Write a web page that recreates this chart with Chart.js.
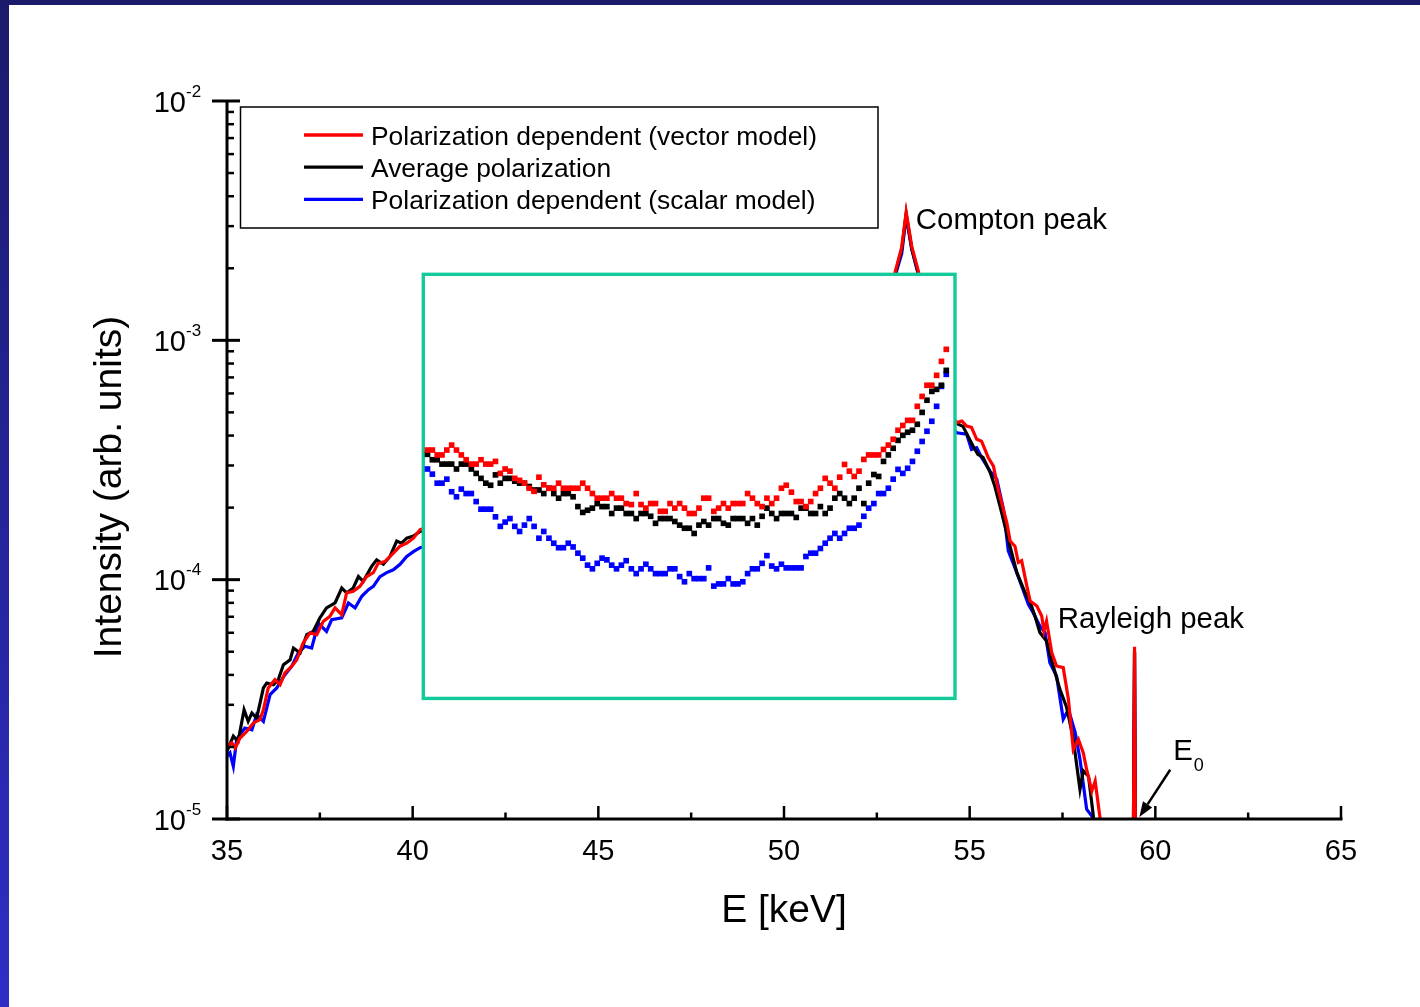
<!DOCTYPE html>
<html>
<head>
<meta charset="utf-8">
<script src="https://cdn.jsdelivr.net/npm/chart.js@4.4.0/dist/chart.umd.min.js"></script>
<style>
html, body { margin: 0; padding: 0; background: #fff; overflow: hidden; }
#wrap { position: relative; width: 1420px; height: 1007px; background: #fff; }
#topbar { position: absolute; left: 0; top: 0; width: 1420px; height: 5px; background: #1b1a6b; }
#sidebar { position: absolute; left: 0; top: 0; width: 9px; height: 1007px; background: linear-gradient(#1b1a6b, #2e2ec6); }
</style>
</head>
<body>
<div id="wrap"><canvas id="chartSpectrum"></canvas><div id="topbar"></div><div id="sidebar"></div></div>
<script>
// main spectra: energy [keV] / intensity [arb. units]
const redE = [35.00, 35.13, 35.22, 35.35, 35.53, 35.71, 35.89, 35.98, 36.11, 36.29, 36.43, 36.56, 36.74, 36.88, 37.05, 37.24, 37.42, 37.59, 37.77, 37.91, 38.09, 38.22, 38.40, 38.58, 38.76, 38.94, 39.07, 39.25, 39.48, 39.66, 39.84, 40.02, 40.20,
  46.0, 52.8, 52.99, 53.17, 53.29, 53.44, 53.62, 53.9, 54.4,
  54.65, 54.79, 54.92, 55.05, 55.19, 55.32, 55.50, 55.64, 55.77, 56.00, 56.09, 56.22, 56.31, 56.40, 56.54, 56.63, 56.81, 56.94, 57.00, 57.07, 57.21, 57.34, 57.52, 57.66, 57.79, 57.93, 58.06, 58.15, 58.29, 58.38, 58.51, 58.60,
  59.40, 59.44, 59.47]
const redI = [2.01e-5, 2.08e-5, 1.98e-5, 2.18e-5, 2.32e-5, 2.52e-5, 2.60e-5, 2.86e-5, 3.53e-5, 3.82e-5, 3.64e-5, 4.08e-5, 4.34e-5, 4.63e-5, 5.44e-5, 5.99e-5, 5.89e-5, 6.69e-5, 7.03e-5, 7.62e-5, 7.14e-5, 8.80e-5, 8.94e-5, 9.38e-5, 1.03e-4, 1.07e-4, 1.17e-4, 1.19e-4, 1.29e-4, 1.38e-4, 1.42e-4, 1.49e-4, 1.62e-4,
  3.0e-4, 1.6e-3, 1.92e-3, 2.45e-3, 3.43e-3, 2.47e-3, 1.94e-3, 1.0e-3, 5.2e-4,
  4.53e-4, 4.60e-4, 4.38e-4, 4.33e-4, 3.86e-4, 3.79e-4, 3.24e-4, 2.98e-4, 2.38e-4, 1.73e-4, 1.45e-4, 1.38e-4, 1.18e-4, 1.20e-4, 9.4e-5, 8.14e-5, 7.76e-5, 7.05e-5, 6.10e-5, 6.72e-5, 4.96e-5, 4.36e-5, 4.29e-5, 3.16e-5, 1.95e-5, 2.15e-5, 1.89e-5, 1.61e-5, 1.31e-5, 1.44e-5, 1.01e-5, 5e-6,
  5e-6, 5.25e-5, 5e-6]

const blackE = [35.00, 35.17, 35.30, 35.46, 35.57, 35.67, 35.80, 35.98, 36.07, 36.25, 36.38, 36.52, 36.70, 36.79, 36.97, 37.15, 37.32, 37.50, 37.68, 37.91, 38.09, 38.22, 38.40, 38.54, 38.67, 38.90, 39.03, 39.21, 39.39, 39.57, 39.70, 39.84, 40.02, 40.20,
  46.0, 52.8, 52.99, 53.17, 53.29, 53.44, 53.62, 53.9, 54.4,
  54.69, 54.82, 55.09, 55.22, 55.36, 55.55, 55.68, 55.86, 56.04, 56.27, 56.49, 56.63, 56.76, 56.89, 57.07, 57.25, 57.43, 57.61, 57.78, 57.97, 58.06, 58.20, 58.33, 58.40,
  59.40, 59.44, 59.47]
const blackI = [1.92e-5, 2.22e-5, 2.11e-5, 2.86e-5, 2.56e-5, 2.77e-5, 2.64e-5, 3.53e-5, 3.70e-5, 3.64e-5, 3.82e-5, 4.41e-5, 4.63e-5, 5.18e-5, 4.94e-5, 5.89e-5, 6.08e-5, 6.92e-5, 7.62e-5, 7.99e-5, 9.23e-5, 8.80e-5, 9.23e-5, 1.03e-4, 9.84e-5, 1.14e-4, 1.21e-4, 1.16e-4, 1.25e-4, 1.45e-4, 1.42e-4, 1.49e-4, 1.52e-4, 1.59e-4,
  2.8e-4, 1.55e-3, 1.88e-3, 2.40e-3, 3.38e-3, 2.42e-3, 1.90e-3, 9.6e-4, 5.0e-4,
  4.46e-4, 4.37e-4, 3.62e-4, 3.34e-4, 3.24e-4, 2.81e-4, 2.45e-4, 1.91e-4, 1.47e-4, 1.07e-4, 8.86e-5, 8.04e-5, 7.03e-5, 6.02e-5, 5.54e-5, 4.36e-5, 3.48e-5, 2.93e-5, 2.21e-5, 1.33e-5, 1.59e-5, 1.51e-5, 1.03e-5, 5e-6,
  5e-6, 5.0e-5, 5e-6]

const blueE = [35.00, 35.08, 35.17, 35.26, 35.48, 35.67, 35.80, 35.98, 36.16, 36.34, 36.56, 36.74, 36.92, 37.10, 37.28, 37.46, 37.68, 37.82, 38.09, 38.27, 38.45, 38.63, 38.81, 38.94, 39.12, 39.30, 39.48, 39.66, 39.84, 40.02, 40.20,
  46.0, 52.8, 52.99, 53.17, 53.29, 53.44, 53.62, 53.9, 54.4,
  54.65, 54.92, 55.05, 55.19, 55.32, 55.55, 55.73, 55.91, 56.04, 56.27, 56.58, 56.71, 56.89, 57.03, 57.16, 57.34, 57.52, 57.66, 57.84, 57.97, 58.15, 58.33, 58.40,
  59.40, 59.44, 59.47]
const blueI = [1.83e-5, 1.89e-5, 1.66e-5, 2.15e-5, 2.40e-5, 2.36e-5, 2.73e-5, 2.56e-5, 3.31e-5, 3.53e-5, 4.01e-5, 4.34e-5, 4.94e-5, 5.27e-5, 5.18e-5, 6.59e-5, 6.08e-5, 6.81e-5, 6.92e-5, 7.99e-5, 7.62e-5, 8.52e-5, 9.08e-5, 9.38e-5, 1.03e-4, 1.07e-4, 1.10e-4, 1.16e-4, 1.25e-4, 1.31e-4, 1.36e-4,
  2.2e-4, 1.5e-3, 1.85e-3, 2.30e-3, 3.30e-3, 2.40e-3, 1.88e-3, 9.0e-4, 4.6e-4,
  4.11e-4, 4.05e-4, 3.50e-4, 3.56e-4, 3.24e-4, 2.84e-4, 2.63e-4, 1.97e-4, 1.32e-4, 1.07e-4, 7.88e-5, 7.28e-5, 6.40e-5, 6.01e-5, 4.50e-5, 3.96e-5, 2.61e-5, 2.87e-5, 2.30e-5, 1.78e-5, 1.10e-5, 1.01e-5, 5e-6,
  5e-6, 5.0e-5, 5e-6]

// zoomed inset (values in units of 1e-4)
const insetE = [40.40, 40.53, 40.66, 40.79, 40.92, 41.05, 41.18, 41.31, 41.44, 41.58,
  41.71, 41.84, 41.97, 42.10, 42.23, 42.36, 42.49, 42.62, 42.75, 42.88,
  43.01, 43.14, 43.27, 43.40, 43.53, 43.67, 43.80, 43.93, 44.06, 44.19,
  44.32, 44.45, 44.58, 44.71, 44.84, 44.97, 45.10, 45.23, 45.36, 45.49,
  45.62, 45.75, 45.89, 46.02, 46.15, 46.28, 46.41, 46.54, 46.67, 46.80,
  46.93, 47.06, 47.19, 47.32, 47.45, 47.58, 47.71, 47.84, 47.97, 48.11,
  48.24, 48.37, 48.50, 48.63, 48.76, 48.89, 49.02, 49.15, 49.28, 49.41,
  49.54, 49.67, 49.80, 49.93, 50.06, 50.20, 50.33, 50.46, 50.59, 50.72,
  50.85, 50.98, 51.11, 51.24, 51.37, 51.50, 51.63, 51.76, 51.89, 52.02,
  52.15, 52.28, 52.42, 52.55, 52.68, 52.81, 52.94, 53.07, 53.20, 53.33,
  53.46, 53.59, 53.72, 53.85, 53.98, 54.11, 54.24, 54.37]
const insetRed = [3.48, 3.48, 3.32, 3.32, 3.48, 3.65, 3.48, 3.32, 3.17, 3.04,
  3.04, 3.17, 3.04, 3.04, 3.12, 2.78, 2.90, 2.84, 2.65, 2.60,
  2.53, 2.41, 2.34, 2.68, 2.49, 2.41, 2.41, 2.53, 2.41, 2.41,
  2.41, 2.41, 2.53, 2.41, 2.29, 2.19, 2.19, 2.19, 2.29, 2.19,
  2.19, 2.08, 2.06, 2.29, 2.06, 1.99, 2.08, 2.08, 1.93, 1.93,
  2.08, 1.99, 2.08, 1.99, 1.89, 1.89, 1.99, 2.19, 2.19, 1.93,
  1.99, 2.08, 1.99, 2.08, 2.08, 2.08, 2.29, 2.19, 2.08, 2.02,
  2.19, 2.08, 2.19, 2.41, 2.48, 2.32, 2.12, 2.12, 2.02, 2.12,
  2.29, 2.41, 2.65, 2.53, 2.41, 2.68, 3.03, 2.84, 2.70, 2.84,
  3.18, 3.32, 3.32, 3.32, 3.50, 3.65, 3.86, 4.21, 4.41, 4.63,
  4.63, 5.30, 5.83, 6.49, 6.49, 7.14, 8.17, 9.17]
const insetBlack = [3.34, 3.17, 3.17, 3.04, 3.04, 3.04, 2.90, 3.04, 3.04, 2.90,
  2.78, 2.65, 2.53, 2.48, 2.74, 2.53, 2.65, 2.65, 2.58, 2.53,
  2.53, 2.45, 2.37, 2.37, 2.29, 2.41, 2.29, 2.19, 2.29, 2.29,
  2.22, 2.02, 1.91, 1.95, 1.99, 2.08, 2.02, 2.02, 1.89, 1.99,
  1.99, 1.89, 1.89, 1.80, 1.89, 1.89, 1.84, 1.72, 1.80, 1.80,
  1.80, 1.75, 1.69, 1.64, 1.64, 1.56, 1.69, 1.75, 1.69, 1.80,
  1.80, 1.72, 1.69, 1.80, 1.80, 1.80, 1.72, 1.80, 1.69, 1.84,
  1.99, 1.89, 1.80, 1.89, 1.89, 1.89, 1.82, 1.99, 1.99, 1.89,
  1.89, 2.02, 1.89, 1.99, 2.19, 2.29, 2.19, 2.08, 2.19, 2.41,
  2.08, 2.53, 2.75, 2.70, 3.12, 3.32, 3.54, 3.82, 4.01, 4.13,
  4.21, 4.46, 5.00, 5.62, 6.12, 6.24, 6.49, 7.49]
const insetBlue = [2.90, 2.76, 2.53, 2.53, 2.63, 2.33, 2.22, 2.39, 2.29, 2.29,
  2.12, 1.97, 1.97, 1.97, 1.83, 1.67, 1.74, 1.80, 1.67, 1.59,
  1.69, 1.80, 1.67, 1.49, 1.59, 1.49, 1.42, 1.36, 1.36, 1.42,
  1.37, 1.29, 1.23, 1.15, 1.11, 1.17, 1.23, 1.21, 1.15, 1.11,
  1.15, 1.20, 1.11, 1.06, 1.11, 1.16, 1.11, 1.06, 1.06, 1.06,
  1.11, 1.11, 1.03, 0.98, 1.06, 1.01, 1.01, 1.01, 1.12, 0.94,
  0.96, 0.96, 1.01, 0.96, 0.96, 0.98, 1.06, 1.11, 1.11, 1.17,
  1.26, 1.14, 1.11, 1.16, 1.12, 1.12, 1.12, 1.12, 1.25, 1.29,
  1.29, 1.35, 1.42, 1.49, 1.56, 1.49, 1.56, 1.64, 1.64, 1.69,
  1.84, 1.99, 2.08, 2.29, 2.29, 2.41, 2.63, 2.89, 2.78, 2.92,
  3.12, 3.44, 3.78, 4.17, 4.59, 5.30, 6.42, 7.21]
const INSET_UNIT = 1e-4

const seriesLabels = ['Polarization dependent (vector model)', 'Average polarization', 'Polarization dependent (scalar model)']
const xTicks = [35, 40, 45, 50, 55, 60, 65]
const xMinorTicks = [37.5, 42.5, 47.5, 52.5, 57.5, 62.5]
const yDecades = [1e-2, 1e-3, 1e-4, 1e-5]
const yExponents = ['-2', '-3', '-4', '-5']

// inset frame and annotations, in axis units
const insetBox = { e0: 40.286, e1: 54.605, i0: 3.19e-5, i1: 1.887e-3 }
const notes = [
  { text: 'Compton peak', e: 53.55, i: 2.91e-3 },
  { text: 'Rayleigh peak', e: 57.37, i: 6.28e-5 }
]
const e0Label = { e: 60.48, i: 1.77e-5 }
const e0Arrow = { from: [60.40, 1.607e-5], to: [59.57, 1.02e-5] }

const FONT = '"Liberation Sans", Arial, sans-serif'

function pts(xs, ys, k) {
  return xs.map((x, i) => ({ x: x, y: ys[i] * (k || 1) }))
}

function mainSet(label, xs, ys, color, order) {
  return { label: label, data: pts(xs, ys), borderColor: color, backgroundColor: color,
    borderWidth: 3.2, pointRadius: 0, tension: 0, order: order }
}

function insetSet(ys, color, order) {
  return { label: 'inset', data: pts(insetE, ys, INSET_UNIT), showLine: false,
    pointStyle: 'rect', pointRadius: 4.0, pointBorderWidth: 0,
    pointBackgroundColor: color, borderColor: color, order: order }
}

function line(ctx, x1, y1, x2, y2) {
  ctx.beginPath(); ctx.moveTo(x1, y1); ctx.lineTo(x2, y2); ctx.stroke();
}

const spectrumDecor = {
  id: 'spectrumDecor',
  beforeDatasetDraw(chart, args) {
    // white inset frame goes over the main curves, under the inset points
    if (args.index !== 5) return;
    const ctx = chart.ctx, sx = chart.scales.x, sy = chart.scales.y;
    const l = sx.getPixelForValue(insetBox.e0), r = sx.getPixelForValue(insetBox.e1);
    const t = sy.getPixelForValue(insetBox.i1), b = sy.getPixelForValue(insetBox.i0);
    ctx.save();
    ctx.fillStyle = '#fff';
    ctx.fillRect(l, t, r - l, b - t);
    ctx.strokeStyle = '#13cb9a';
    ctx.lineWidth = 3.4;
    ctx.strokeRect(l, t, r - l, b - t);
    ctx.restore();
  },
  afterDatasetsDraw(chart) {
    const ctx = chart.ctx, ca = chart.chartArea;
    const sx = chart.scales.x, sy = chart.scales.y;
    ctx.save();
    ctx.strokeStyle = '#000';
    ctx.fillStyle = '#000';
    ctx.lineCap = 'butt';

    // axes
    ctx.lineWidth = 3;
    line(ctx, ca.left, ca.top, ca.left, ca.bottom + 1.5);
    line(ctx, ca.left - 1.5, ca.bottom, ca.right + 1.5, ca.bottom);

    // y ticks
    yDecades.forEach(v => {
      const py = sy.getPixelForValue(v);
      line(ctx, ca.left - 15, py, ca.left + 13, py);
    });
    ctx.lineWidth = 2.5;
    yDecades.slice(1).forEach(d => {
      for (let k = 2; k <= 9; k++) {
        const py = sy.getPixelForValue(k * d);
        line(ctx, ca.left, py, ca.left + 7, py);
      }
    });
    // x ticks
    xTicks.forEach(e => {
      const px = sx.getPixelForValue(e);
      line(ctx, px, ca.bottom, px, ca.bottom - 13);
    });
    xMinorTicks.forEach(e => {
      const px = sx.getPixelForValue(e);
      line(ctx, px, ca.bottom, px, ca.bottom - 6.5);
    });

    // tick labels
    ctx.font = '29px ' + FONT;
    ctx.textAlign = 'center';
    ctx.textBaseline = 'alphabetic';
    xTicks.forEach(e => ctx.fillText(String(e), sx.getPixelForValue(e), ca.bottom + 40.5));
    yDecades.forEach((v, i) => {
      const py = sy.getPixelForValue(v);
      ctx.font = '29px ' + FONT;
      ctx.textAlign = 'right';
      ctx.fillText('10', ca.left - 41, py + 10.5);
      ctx.font = '17px ' + FONT;
      ctx.textAlign = 'left';
      ctx.fillText(yExponents[i], ca.left - 41, py - 4.3);
    });

    // axis titles
    ctx.font = '39px ' + FONT;
    ctx.textAlign = 'center';
    ctx.fillText('E [keV]', (ca.left + ca.right) / 2, ca.bottom + 103);
    ctx.save();
    ctx.translate(ca.left - 106, (ca.top + ca.bottom) / 2 + 27);
    ctx.rotate(-Math.PI / 2);
    ctx.fillText('Intensity (arb. units)', 0, 0);
    ctx.restore();

    // legend
    ctx.lineWidth = 1.5;
    ctx.strokeRect(240.5, 107, 637.5, 121);
    const colors = chart.data.datasets.slice(0, 3).map(d => d.borderColor);
    ctx.font = '26.4px ' + FONT;
    ctx.textAlign = 'left';
    seriesLabels.forEach((lab, i) => {
      const ly = 135 + i * 32.2;
      ctx.strokeStyle = colors[i];
      ctx.lineWidth = 3.3;
      line(ctx, 304, ly, 363, ly);
      ctx.fillText(lab, 371, ly + 10);
    });

    // annotations
    ctx.font = '29.4px ' + FONT;
    notes.forEach(n => ctx.fillText(n.text, sx.getPixelForValue(n.e), sy.getPixelForValue(n.i)));
    const ex = sx.getPixelForValue(e0Label.e), ey = sy.getPixelForValue(e0Label.i);
    ctx.fillText('E', ex, ey);
    const ew = ctx.measureText('E').width;
    ctx.font = '18px ' + FONT;
    ctx.fillText('0', ex + ew + 1, ey + 11);

    // E0 arrow
    const ax1 = sx.getPixelForValue(e0Arrow.from[0]), ay1 = sy.getPixelForValue(e0Arrow.from[1]);
    const ax2 = sx.getPixelForValue(e0Arrow.to[0]), ay2 = sy.getPixelForValue(e0Arrow.to[1]);
    const ang = Math.atan2(ay2 - ay1, ax2 - ax1);
    const hl = 15, hw = 5.5;
    const bx = ax2 - hl * Math.cos(ang), by = ay2 - hl * Math.sin(ang);
    ctx.strokeStyle = '#000';
    ctx.lineWidth = 2.5;
    line(ctx, ax1, ay1, bx, by);
    ctx.beginPath();
    ctx.moveTo(ax2, ay2);
    ctx.lineTo(bx + hw * Math.sin(ang), by - hw * Math.cos(ang));
    ctx.lineTo(bx - hw * Math.sin(ang), by + hw * Math.cos(ang));
    ctx.closePath();
    ctx.fill();
    ctx.restore();
  }
};

var ctxSpectrum = document.getElementById('chartSpectrum').getContext('2d');
var chartSpectrum = new Chart(ctxSpectrum, {
  type: 'line',
  data: {
    datasets: [
      mainSet(seriesLabels[0], redE, redI, '#ff0000', 3),
      mainSet(seriesLabels[1], blackE, blackI, '#000000', 4),
      mainSet(seriesLabels[2], blueE, blueI, '#0000ff', 5),
      insetSet(insetRed, '#ff0000', 0),
      insetSet(insetBlack, '#000000', 1),
      insetSet(insetBlue, '#0000ff', 2)
    ]
  },
  options: {
    animation: false,
    responsive: true,
    maintainAspectRatio: false,
    events: [],
    layout: { padding: { left: 227, top: 101, right: 79, bottom: 188 } },
    scales: {
      x: { type: 'linear', min: 35, max: 65, display: false },
      y: { type: 'logarithmic', min: 1e-5, max: 1e-2, display: false }
    },
    plugins: { legend: { display: false }, tooltip: { enabled: false } }
  },
  plugins: [spectrumDecor]
});
</script>
</body>
</html>
